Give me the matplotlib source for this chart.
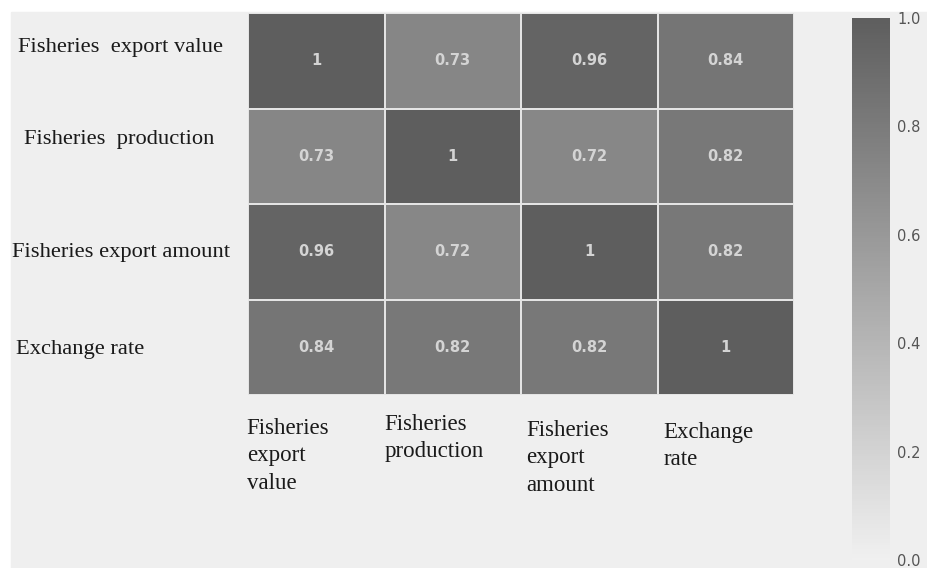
import numpy as np
import matplotlib
matplotlib.use("Agg")
import matplotlib.pyplot as plt
from matplotlib.colors import LinearSegmentedColormap
from matplotlib.patches import Rectangle
import matplotlib.transforms as mtransforms

plt.rcParams["font.serif"] = ["Liberation Serif", "Times New Roman", "DejaVu Serif"]

# Correlation matrix of fishery indicators
row_labels = ["Fisheries  export value", "Fisheries  production",
              "Fisheries export amount", "Exchange rate"]
col_labels = ["Fisheries\nexport\nvalue", "Fisheries\nproduction",
              "Fisheries\nexport\namount", "Exchange\nrate"]
corr = np.array([
    [1.00, 0.73, 0.96, 0.84],
    [0.73, 1.00, 0.72, 0.82],
    [0.96, 0.72, 1.00, 0.82],
    [0.84, 0.82, 0.82, 1.00],
])
cbar_ticks = [0.0, 0.2, 0.4, 0.6, 0.8, 1.0]

W, H = 927, 568
fig = plt.figure(figsize=(W / 100, H / 100), dpi=100, facecolor="white")

# light panel behind everything
fig.patches.append(Rectangle((11 / W, 0), 1 - 11 / W, 1 - 12 / H,
                             transform=fig.transFigure, color="#efefef", zorder=-5))

cmap = LinearSegmentedColormap.from_list("greys_soft", ["#f0f0f0", "#5e5e5e"])

ax = fig.add_axes([248 / W, 1 - 395 / H, 546 / W, 382 / H])
ax.set_zorder(2)
ax.patch.set_alpha(0)
mesh = ax.pcolormesh(corr, cmap=cmap, vmin=0, vmax=1,
                     edgecolors="#e4e4e4", linewidth=1.2)
ax.set_xlim(0, 4)
ax.set_ylim(4, 0)
ax.set_xticks([])
ax.set_yticks([])
for s in ax.spines.values():
    s.set_visible(False)

for i in range(4):
    for j in range(4):
        v = corr[i, j]
        ax.text(j + 0.5, i + 0.5, f"{v:.2g}", ha="center", va="center",
                fontsize=10.5, fontweight="bold", color="#d4d4d4",
                family="DejaVu Sans")

# row labels (left side)
row_x = [18, 24, 12, 16]
row_dy = [-0.14, -0.18, 0.01, 0.02]
trans_row = mtransforms.blended_transform_factory(fig.transFigure, ax.transData)
for i, lab in enumerate(row_labels):
    ax.text(row_x[i] / W, i + 0.5 + row_dy[i], lab, transform=trans_row,
            ha="left", va="center", fontsize=16.2, family="serif", color="#1a1a1a",
            clip_on=False)

# column labels (below)
col_dx = [-0.01, 0.0, 0.04, 0.045]
col_top = [418, 414, 420, 422]
trans_col = mtransforms.blended_transform_factory(ax.transData, fig.transFigure)
for j, lab in enumerate(col_labels):
    ax.text(j + col_dx[j], 1 - col_top[j] / H, lab, transform=trans_col,
            ha="left", va="top", fontsize=16.5, family="serif", color="#1a1a1a",
            linespacing=1.4, clip_on=False)

# colour bar
cax = fig.add_axes([852 / W, 1 - 560 / H, 38 / W, 542 / H])
cax.set_zorder(2)
cb = fig.colorbar(mesh, cax=cax, ticks=cbar_ticks)
cb.outline.set_visible(False)
cb.ax.tick_params(length=0, pad=5, labelsize=10.5, labelcolor="#555555")
cb.ax.set_yticklabels([f"{t:.1f}" for t in cbar_ticks], family="DejaVu Sans")

fig.savefig("out.png", dpi=100, facecolor=fig.get_facecolor())
